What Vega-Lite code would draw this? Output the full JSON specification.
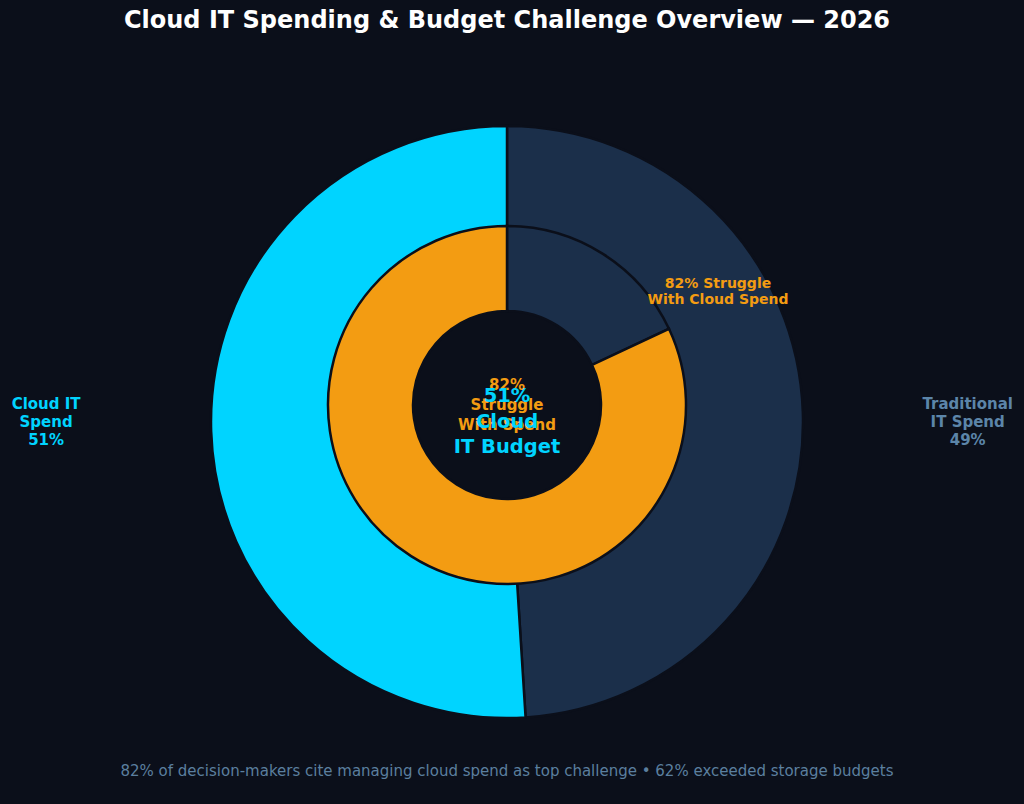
{
  "$schema": "https://vega.github.io/schema/vega-lite/v6.json",
  "width": 1024,
  "height": 804,
  "autosize": {"type": "fit", "contains": "padding"},
  "padding": 0,
  "background": "#0b0f1a",
  "config": {
    "view": {"stroke": null},
    "font": "DejaVu Sans",
    "text": {"font": "DejaVu Sans"}
  },
  "datasets": {
    "spend": [
      {"segment": "Traditional IT Spend", "caption": "Traditional\nIT Spend", "share": 49},
      {"segment": "Cloud IT Spend", "caption": "Cloud IT\nSpend", "share": 51}
    ],
    "challenge": [
      {"segment": "No Struggle", "share": 18},
      {"segment": "Struggle With Cloud Spend", "share": 82}
    ],
    "notes": [
      {"kind": "title", "text": "Cloud IT Spending & Budget Challenge Overview — 2026"},
      {"kind": "footer", "text": "82% of decision-makers cite managing cloud spend as top challenge • 62% exceeded storage budgets"}
    ]
  },
  "layer": [
    {
      "data": {"name": "spend"},
      "mark": {
        "type": "arc",
        "x": {"expr": "width/2 - 5"},
        "y": {"expr": "height/2 + 20"},
        "radius": 296,
        "radius2": 140,
        "stroke": "#0b0f1a",
        "strokeWidth": 2.5
      },
      "encoding": {
        "theta": {"field": "share", "type": "quantitative", "stack": true},
        "order": {"field": "segment", "sort": "descending"},
        "color": {
          "field": "segment",
          "type": "nominal",
          "legend": null,
          "scale": {
            "domain": ["Traditional IT Spend", "Cloud IT Spend", "No Struggle", "Struggle With Cloud Spend"],
            "range": ["#1b2f4a", "#00d4ff", "#1b2f4a", "#f39c12"]
          }
        }
      }
    },
    {
      "data": {"name": "challenge"},
      "mark": {
        "type": "arc",
        "x": {"expr": "width/2 - 5"},
        "y": {"expr": "height/2 + 3"},
        "radius": 179,
        "radius2": 94,
        "stroke": "#0b0f1a",
        "strokeWidth": 2.5
      },
      "encoding": {
        "theta": {"field": "share", "type": "quantitative", "stack": true},
        "order": {"field": "segment", "sort": "ascending"},
        "color": {"field": "segment", "type": "nominal", "legend": null}
      }
    },
    {
      "data": {"name": "spend"},
      "transform": [
        {"filter": "datum.segment === 'Cloud IT Spend'"},
        {"calculate": "datum.caption + '\\n' + datum.share + '%'", "as": "label"}
      ],
      "mark": {
        "type": "text",
        "x": {"expr": "width*0.045"},
        "y": {"expr": "height/2 + 2"},
        "align": "center",
        "baseline": "middle",
        "lineBreak": "\n",
        "lineHeight": 18,
        "fontSize": 15,
        "fontWeight": "bold",
        "color": "#00d4ff"
      },
      "encoding": {"text": {"field": "label"}}
    },
    {
      "data": {"name": "spend"},
      "transform": [
        {"filter": "datum.segment === 'Traditional IT Spend'"},
        {"calculate": "datum.caption + '\\n' + datum.share + '%'", "as": "label"}
      ],
      "mark": {
        "type": "text",
        "x": {"expr": "width*0.945"},
        "y": {"expr": "height/2 + 2"},
        "align": "center",
        "baseline": "middle",
        "lineBreak": "\n",
        "lineHeight": 18,
        "fontSize": 15,
        "fontWeight": "bold",
        "color": "#5c85a9"
      },
      "encoding": {"text": {"field": "label"}}
    },
    {
      "data": {"name": "challenge"},
      "transform": [
        {"filter": "datum.segment === 'Struggle With Cloud Spend'"},
        {"calculate": "datum.share + '% Struggle\\nWith Cloud Spend'", "as": "label"}
      ],
      "mark": {
        "type": "text",
        "x": {"expr": "width/2 + 206"},
        "y": {"expr": "height/2 - 118"},
        "align": "center",
        "baseline": "middle",
        "lineBreak": "\n",
        "lineHeight": 16,
        "fontSize": 14,
        "fontWeight": "bold",
        "color": "#f39c12"
      },
      "encoding": {"text": {"field": "label"}}
    },
    {
      "data": {"name": "challenge"},
      "transform": [
        {"filter": "datum.segment === 'Struggle With Cloud Spend'"},
        {"calculate": "datum.share + '%\\nStruggle\\nWith Spend'", "as": "label"}
      ],
      "mark": {
        "type": "text",
        "x": {"expr": "width/2 - 5"},
        "y": {"expr": "height/2 - 17"},
        "align": "center",
        "baseline": "middle",
        "lineBreak": "\n",
        "lineHeight": 20,
        "fontSize": 15,
        "fontWeight": "bold",
        "color": "#f39c12"
      },
      "encoding": {"text": {"field": "label"}}
    },
    {
      "data": {"name": "spend"},
      "transform": [
        {"filter": "datum.segment === 'Cloud IT Spend'"},
        {"calculate": "datum.share + '%\\nCloud\\nIT Budget'", "as": "label"}
      ],
      "mark": {
        "type": "text",
        "x": {"expr": "width/2 - 5"},
        "y": {"expr": "height/2 - 6"},
        "align": "center",
        "baseline": "middle",
        "lineBreak": "\n",
        "lineHeight": 25.5,
        "fontSize": 19.5,
        "fontWeight": "bold",
        "color": "#00d4ff"
      },
      "encoding": {"text": {"field": "label"}}
    },
    {
      "data": {"name": "notes"},
      "transform": [{"filter": "datum.kind === 'title'"}],
      "mark": {
        "type": "text",
        "x": {"expr": "width/2 - 5"},
        "y": 21,
        "align": "center",
        "baseline": "middle",
        "fontSize": 24,
        "fontWeight": "bold",
        "color": "#ffffff"
      },
      "encoding": {"text": {"field": "text"}}
    },
    {
      "data": {"name": "notes"},
      "transform": [{"filter": "datum.kind === 'footer'"}],
      "mark": {
        "type": "text",
        "x": {"expr": "width/2 - 5"},
        "y": {"expr": "height - 33"},
        "align": "center",
        "baseline": "middle",
        "fontSize": 15,
        "color": "#5b7f9f"
      },
      "encoding": {"text": {"field": "text"}}
    }
  ]
}
